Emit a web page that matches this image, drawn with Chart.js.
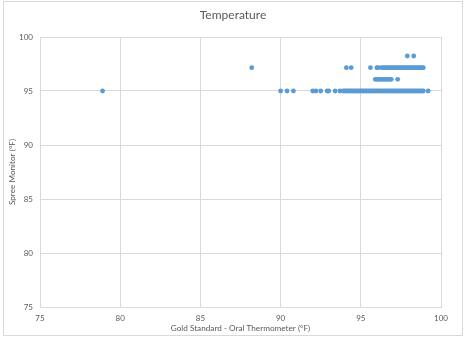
<!DOCTYPE html>
<html>
<head>
<meta charset="utf-8">
<script src="https://cdn.jsdelivr.net/npm/chart.js@4/dist/chart.umd.min.js"></script>
<style>
  html, body { margin: 0; padding: 0; background: #fff; }
  #wrap { width: 466px; height: 338px; }
</style>
</head>
<body>
<div id="wrap"><canvas id="myChart" width="466" height="338"></canvas></div>
<script>
// readings per Spree level (x = oral thermometer, °F)
var xAt95 = [78.9, 90.0, 90.4, 90.8, 92.0, 92.2, 92.5, 92.9, 93.0, 93.4, 93.7, 93.9,
    94.0, 94.1, 94.2, 94.3, 94.4, 94.5, 94.6, 94.7, 94.8, 94.9,
    95.0, 95.1, 95.2, 95.3, 95.4, 95.5, 95.6, 95.7, 95.8, 95.9,
    96.0, 96.1, 96.2, 96.3, 96.4, 96.5, 96.6, 96.7, 96.8, 96.9,
    97.0, 97.1, 97.2, 97.3, 97.4, 97.5, 97.6, 97.7, 97.8, 97.9,
    98.0, 98.1, 98.2, 98.3, 98.4, 98.5, 98.6, 98.7, 98.8, 98.9, 99.2];
var xAt96 = [95.9, 96.0, 96.1, 96.2, 96.3, 96.4, 96.5, 96.6, 96.7, 96.8, 96.9, 97.3];
var xAt97 = [88.2, 94.1, 94.4, 95.6, 96.0, 96.1, 96.3, 96.4, 96.5, 96.6, 96.7, 96.8, 96.9,
    97.0, 97.1, 97.2, 97.3, 97.4, 97.5, 97.6, 97.7, 97.8, 97.9,
    98.0, 98.1, 98.2, 98.3, 98.4, 98.5, 98.6, 98.7, 98.8, 98.9];
var xAt98 = [97.9, 98.3];
var spreeLevels = [95, 96.08, 97.16, 98.24];

var points = [];
[xAt95, xAt96, xAt97, xAt98].forEach(function (row, i) {
    row.forEach(function (x) {
        points.push({ x: x, y: spreeLevels[i] });
    });
});

var grid = '#d9d9d9';
var txt = '#595959';
var fam = 'Lato, "Open Sans", sans-serif';

// light border round the whole chart
var frame = {
    id: 'frame',
    afterDraw: function (chart) {
        var c = chart.ctx;
        c.save();
        c.strokeStyle = grid;
        c.lineWidth = 1;
        c.strokeRect(3.5, 1.5, 459, 334);
        c.restore();
    }
};

var ctx = document.getElementById("myChart");
new Chart(ctx, {
    type: 'scatter',
    data: {
        datasets: [{
            label: 'Temperature',
            data: points,
            backgroundColor: '#5b9bd5',
            borderColor: '#5b9bd5',
            pointRadius: 2.4,
            borderWidth: 0
        }]
    },
    options: {
        responsive: false,
        animation: false,
        layout: { padding: 0 },
        plugins: {
            legend: { display: false },
            tooltip: { enabled: false },
            title: {
                display: true,
                text: 'Temperature',
                color: txt,
                font: { family: fam, size: 12, weight: 'normal' },
                padding: { top: 8, bottom: 14.6 }
            }
        },
        scales: {
            x: {
                type: 'linear',
                min: 75, max: 100,
                ticks: { stepSize: 5, color: txt, font: { family: fam, size: 8 }, padding: 7 },
                grid: { color: grid, drawTicks: false },
                border: { color: grid },
                title: {
                    display: true,
                    text: 'Gold Standard - Oral Thermometer (°F)',
                    color: txt,
                    font: { family: fam, size: 8.2 },
                    padding: { top: 0, bottom: 5 }
                },
                afterFit: function (s) { s.height = 31; }
            },
            y: {
                min: 75, max: 100,
                ticks: { stepSize: 5, color: txt, font: { family: fam, size: 8 }, padding: 7 },
                grid: { color: grid, drawTicks: false },
                border: { color: grid },
                title: {
                    display: true,
                    text: 'Spree Monitor (°F)',
                    color: txt,
                    font: { family: fam, size: 8.2 },
                    padding: { top: 7, bottom: 0 }
                },
                afterFit: function (s) { s.width = 40; }
            },
            // empty right-hand axis, only keeps the space on the right
            yRight: {
                position: 'right',
                min: 75, max: 100,
                ticks: { display: false },
                grid: { display: false, drawTicks: false },
                border: { display: false },
                afterFit: function (s) { s.width = 25; }
            }
        }
    },
    plugins: [frame]
});
</script>
</body>
</html>
